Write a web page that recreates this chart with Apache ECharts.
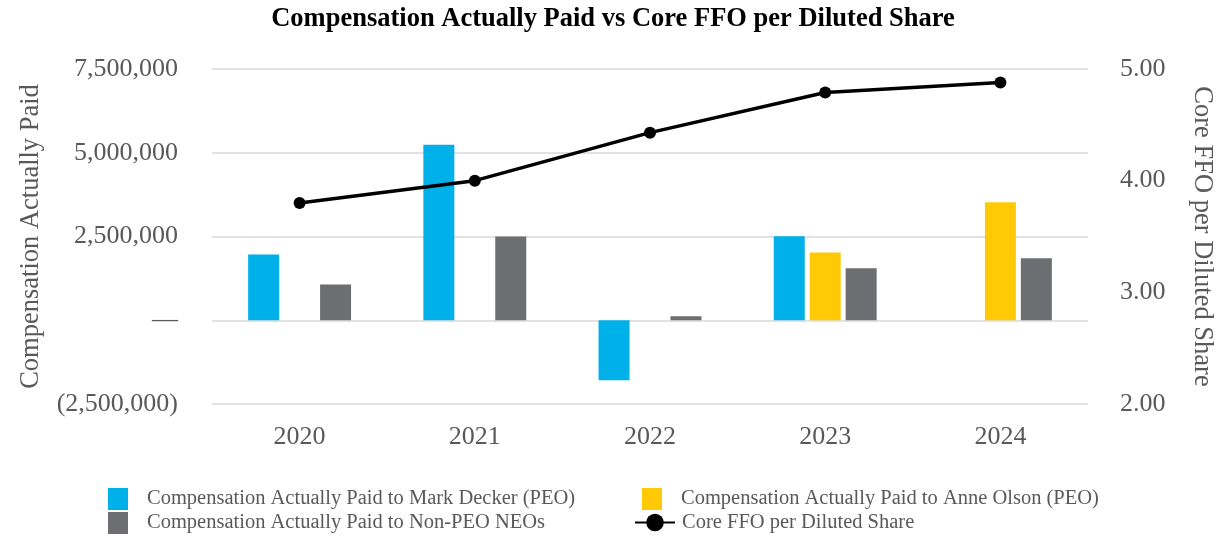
<!DOCTYPE html>
<html><head><meta charset="utf-8">
<script src="https://cdn.jsdelivr.net/npm/echarts@6/dist/echarts.min.js"></script>
<style>html,body{margin:0;padding:0;background:#fff}#c{width:1226px;height:550px}</style>
</head><body><div id="c"></div>
<script>
const categories = ['2020','2021','2022','2023','2024'];
const deckerCAP = [1960000, 5240000, -1790000, 2510000, null];
const olsonCAP = [null, null, null, 2020000, 3520000];
const nonPeoCAP = [1070000, 2500000, 120000, 1550000, 1850000];
const coreFFO = [3.80, 4.00, 4.43, 4.79, 4.88];

const serif = '"Liberation Serif","Times New Roman",serif';
const grey = '#595959';
const chart = echarts.init(document.getElementById('c'));
function fmtMoney(v){
  if (v === 0) return '—';
  const s = Math.abs(v).toLocaleString('en-US');
  return v < 0 ? '(' + s + ')' : s;
}
const legendText = {fontFamily:serif,fontSize:20.5,color:grey,padding:[0,0,0,14]};
chart.setOption({
  animation:false,
  title:{text:'Compensation Actually Paid vs Core FFO per Diluted Share',left:'center',top:1,
    textStyle:{fontFamily:serif,fontSize:26.5,fontWeight:'bold',color:'#000'}},
  legend:[
    {orient:'vertical',left:108,top:488,itemWidth:20,itemHeight:22,itemGap:2,padding:0,icon:'rect',
     data:['Compensation Actually Paid to Mark Decker (PEO)','Compensation Actually Paid to Non-PEO NEOs'],
     textStyle:legendText},
    {orient:'vertical',left:642,top:488,itemWidth:20,itemHeight:22,itemGap:2,padding:0,icon:'rect',
     data:['Compensation Actually Paid to Anne Olson (PEO)'],
     textStyle:legendText},
    {orient:'vertical',left:634,top:512,itemWidth:40,itemHeight:22,padding:0,
     data:[{name:'Core FFO per Diluted Share',itemStyle:{color:'#000'}}],
     textStyle:{fontFamily:serif,fontSize:20.5,color:grey,padding:[0,0,0,2]}}
  ],
  grid:{left:212,right:138,top:69,bottom:146},
  xAxis:{type:'category',data:categories,axisLine:{show:false},axisTick:{show:false},
    axisLabel:{fontFamily:serif,fontSize:26,color:grey,margin:20}},
  yAxis:[
    {type:'value',min:-2500000,max:7500000,interval:2500000,
     name:'Compensation Actually Paid',nameLocation:'middle',nameRotate:90,nameGap:167,
     nameTextStyle:{fontFamily:serif,fontSize:26.5,color:grey},
     axisLabel:{fontFamily:serif,fontSize:26,color:grey,margin:34,formatter:fmtMoney},
     splitLine:{lineStyle:{color:'#d9d9d9',width:1.5}},axisLine:{show:false},axisTick:{show:false}},
    {type:'value',min:2,max:5,interval:1,position:'right',
     name:'Core FFO per Diluted Share',nameLocation:'middle',nameRotate:-90,nameGap:100,
     nameTextStyle:{fontFamily:serif,fontSize:26.5,color:grey},
     axisLabel:{fontFamily:serif,fontSize:26,color:grey,margin:32,formatter:v=>v.toFixed(2)},
     splitLine:{show:false},axisLine:{show:false},axisTick:{show:false}}
  ],
  series:[
    {name:'Compensation Actually Paid to Mark Decker (PEO)',type:'bar',data:deckerCAP,barWidth:31,barGap:'16%',itemStyle:{color:'#00b0e8'}},
    {name:'Compensation Actually Paid to Anne Olson (PEO)',type:'bar',data:olsonCAP,barWidth:31,barGap:'16%',itemStyle:{color:'#ffc905'}},
    {name:'Compensation Actually Paid to Non-PEO NEOs',type:'bar',data:nonPeoCAP,barWidth:31,barGap:'16%',itemStyle:{color:'#6d6e71'}},
    {name:'Core FFO per Diluted Share',type:'line',yAxisIndex:1,data:coreFFO,symbol:'circle',symbolSize:12,
     lineStyle:{color:'#000',width:3.5},itemStyle:{color:'#000'},z:5}
  ]
});
</script></body></html>
